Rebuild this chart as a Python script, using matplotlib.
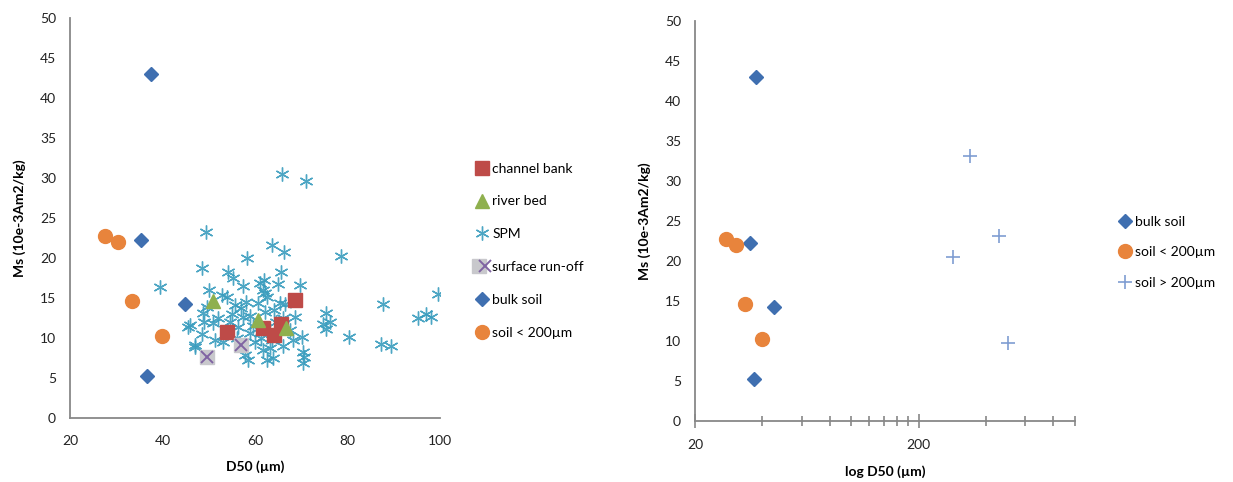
import matplotlib
matplotlib.use("Agg")
import matplotlib.pyplot as plt
from matplotlib.ticker import FixedLocator, NullFormatter
from matplotlib.legend_handler import HandlerTuple

plt.rcParams['font.family'] = ['Lato', 'DejaVu Sans']

# ---------------- data ----------------
channel_bank_x = [53.9, 61.7, 64.1, 65.6, 68.6]
channel_bank_y = [10.75, 11.3, 10.4, 11.7, 14.75]

river_bed_x = [50.9, 60.6, 66.7]
river_bed_y = [14.6, 12.3, 11.2]

spm_x = [65.8, 71.0, 49.4, 39.5, 58.3, 63.7, 66.3, 69.7, 78.6, 48.5, 54.2, 55.3,
         61.1, 61.7, 65.6, 45.5, 47.0, 99.6, 87.7, 95.2, 97.0, 98.0, 87.2, 89.4,
         80.3, 75.4, 76.3, 75.4, 74.7, 70.4, 70.6, 62.2, 65.4, 66.4, 62.2, 68.6,
         68.2, 70.2, 70.4, 63.2, 63.9, 62.6, 61.2, 63.7, 52.9, 48.8, 46.0, 50.9,
         47.0, 51.4, 55.7, 57.4, 56.3, 58.9, 57.8, 58.5, 61.7, 60.6, 62.6, 49.6,
         53.9, 55.0, 57.0, 59.0, 60.0, 56.0, 54.5, 52.0, 49.0, 48.5, 53.0, 66.0,
         67.5, 64.5, 66.0, 64.0, 65.0, 58.0, 57.5, 62.0, 50.0, 54.0, 59.5]
spm_y = [30.5, 29.6, 23.2, 16.4, 20.0, 21.6, 20.8, 16.6, 20.3, 18.7, 18.2, 17.5,
         16.9, 16.0, 18.2, 11.4, 8.9, 15.5, 14.2, 12.5, 13.0, 12.6, 9.3, 9.0,
         10.1, 13.1, 12.0, 11.1, 11.7, 6.9, 7.6, 15.6, 14.4, 14.2, 13.3, 12.6,
         9.8, 10.1, 8.3, 8.8, 7.5, 7.3, 10.0, 9.8, 15.4, 13.1, 11.6, 11.9,
         9.1, 9.8, 14.1, 12.6, 11.4, 10.6, 7.9, 7.2, 8.5, 14.4, 15.1, 13.9,
         15.1, 13.0, 13.8, 12.8, 9.5, 10.0, 12.0, 12.5, 12.0, 10.5, 9.5, 12.5,
         11.0, 12.0, 9.0, 13.5, 16.8, 14.5, 16.5, 17.2, 16.0, 11.0, 11.5]

runoff_x = [49.6, 57.0]
runoff_y = [7.6, 9.1]

bulk_x = [37.6, 35.3, 44.9, 36.6]
bulk_y = [43.0, 22.3, 14.3, 5.2]

fine_x = [27.6, 30.4, 33.4, 39.9]
fine_y = [22.8, 22.0, 14.6, 10.2]

coarse_x = [339, 284, 457, 503]
coarse_y = [33.1, 20.5, 23.1, 9.7]

log_major = [20, 200]
log_minor = [40, 60, 80, 100, 120, 140, 160, 180, 400, 600, 800, 1000]

# ---------------- colours ----------------
c_bank = '#BE4B48'
c_bed = '#8FB04E'
c_spm = '#3A9DBE'
c_runoff_fill = '#C8C8CC'
c_runoff_x = '#8064A2'
c_bulk = '#3F6FB0'
c_fine = '#E8843C'
c_coarse = '#7F9DD2'
c_axis = '#888888'

fig = plt.figure(figsize=(12.33, 4.82), dpi=100)

ax1 = fig.add_axes([70 / 1233, 64 / 482, 370 / 1233, 400 / 482])
ax2 = fig.add_axes([695 / 1233, 61 / 482, 380 / 1233, 400 / 482])

for ax in (ax1, ax2):
    for s in ('top', 'right'):
        ax.spines[s].set_visible(False)
    for s in ('left', 'bottom'):
        ax.spines[s].set_color(c_axis)
        ax.spines[s].set_linewidth(1.3)
    ax.set_ylim(0, 50)
    ax.set_yticks(range(0, 51, 5))
    ax.tick_params(axis='y', length=0, pad=10, labelsize=10, labelcolor='#222222')
    ax.set_ylabel('Ms (10e-3Am2/kg)', fontsize=10, fontweight='bold', labelpad=10)

# ---------- left chart ----------
kw = dict(linestyle='none')
h_bank, = ax1.plot(channel_bank_x, channel_bank_y, marker='s', ms=9.5, color=c_bank, mec=c_bank, **kw, zorder=4)
h_bed, = ax1.plot(river_bed_x, river_bed_y, marker='^', ms=10, color=c_bed, mec=c_bed, **kw, zorder=4)
h_spm, = ax1.plot(spm_x, spm_y, marker=(6, 2, 0), ms=10, mew=1.0, color=c_spm, alpha=0.9, **kw, zorder=3)
h_ro1, = ax1.plot(runoff_x, runoff_y, marker='s', ms=10, color=c_runoff_fill, mec=c_runoff_fill, **kw, zorder=4)
h_ro2, = ax1.plot(runoff_x, runoff_y, marker='x', ms=8, mew=1.4, color=c_runoff_x, **kw, zorder=5)
h_bulk, = ax1.plot(bulk_x, bulk_y, marker='D', ms=7.5, color=c_bulk, mec=c_bulk, **kw, zorder=4)
h_fine, = ax1.plot(fine_x, fine_y, marker='o', ms=10, color=c_fine, mec=c_fine, **kw, zorder=4)

ax1.set_xlim(20, 100)
ax1.set_xticks([20, 40, 60, 80, 100])
ax1.tick_params(axis='x', length=0, pad=12, labelsize=10, labelcolor='#222222')
ax1.set_xlabel('D50 (µm)', fontsize=10, fontweight='bold', labelpad=10)

fig.legend([h_bank, h_bed, h_spm, (h_ro1, h_ro2), h_bulk, h_fine],
           ['channel bank', 'river bed', 'SPM', 'surface run-off', 'bulk soil', 'soil < 200µm'],
           handler_map={tuple: HandlerTuple(ndivide=None, pad=0)},
           loc='upper left', bbox_to_anchor=(470 / 1233, 1 - 157 / 482),
           frameon=False, fontsize=10, labelspacing=1.5, handlelength=0.9,
           handletextpad=0.3, borderaxespad=0)

# ---------- right chart ----------
r_bulk, = ax2.plot(bulk_x, bulk_y, marker='D', ms=7.5, color=c_bulk, mec=c_bulk, **kw, zorder=4)
r_fine, = ax2.plot(fine_x, fine_y, marker='o', ms=10, color=c_fine, mec=c_fine, **kw, zorder=4)
r_coarse, = ax2.plot(coarse_x, coarse_y, marker='+', ms=10, mew=1.2, color=c_coarse, **kw, zorder=4)

ax2.set_xscale('log')
ax2.set_xlim(20, 1000)
ax2.xaxis.set_major_locator(FixedLocator(log_major))
ax2.xaxis.set_minor_locator(FixedLocator(log_minor))
ax2.xaxis.set_minor_formatter(NullFormatter())
ax2.set_xticklabels([str(v) for v in log_major])
ax2.tick_params(axis='x', which='major', direction='inout', length=10, width=1.2,
                color=c_axis, pad=8, labelsize=10, labelcolor='#222222')
ax2.tick_params(axis='x', which='minor', direction='inout', length=7, width=1.2, color=c_axis)
ax2.set_xlabel('log D50 (µm)', fontsize=10, fontweight='bold', labelpad=10)

fig.legend([r_bulk, r_fine, r_coarse], ['bulk soil', 'soil < 200µm', 'soil > 200µm'],
           loc='upper left', bbox_to_anchor=(1113 / 1233, 1 - 210 / 482),
           frameon=False, fontsize=10, labelspacing=1.35, handlelength=0.9,
           handletextpad=0.3, borderaxespad=0)

fig.savefig('out.png', dpi=100)
